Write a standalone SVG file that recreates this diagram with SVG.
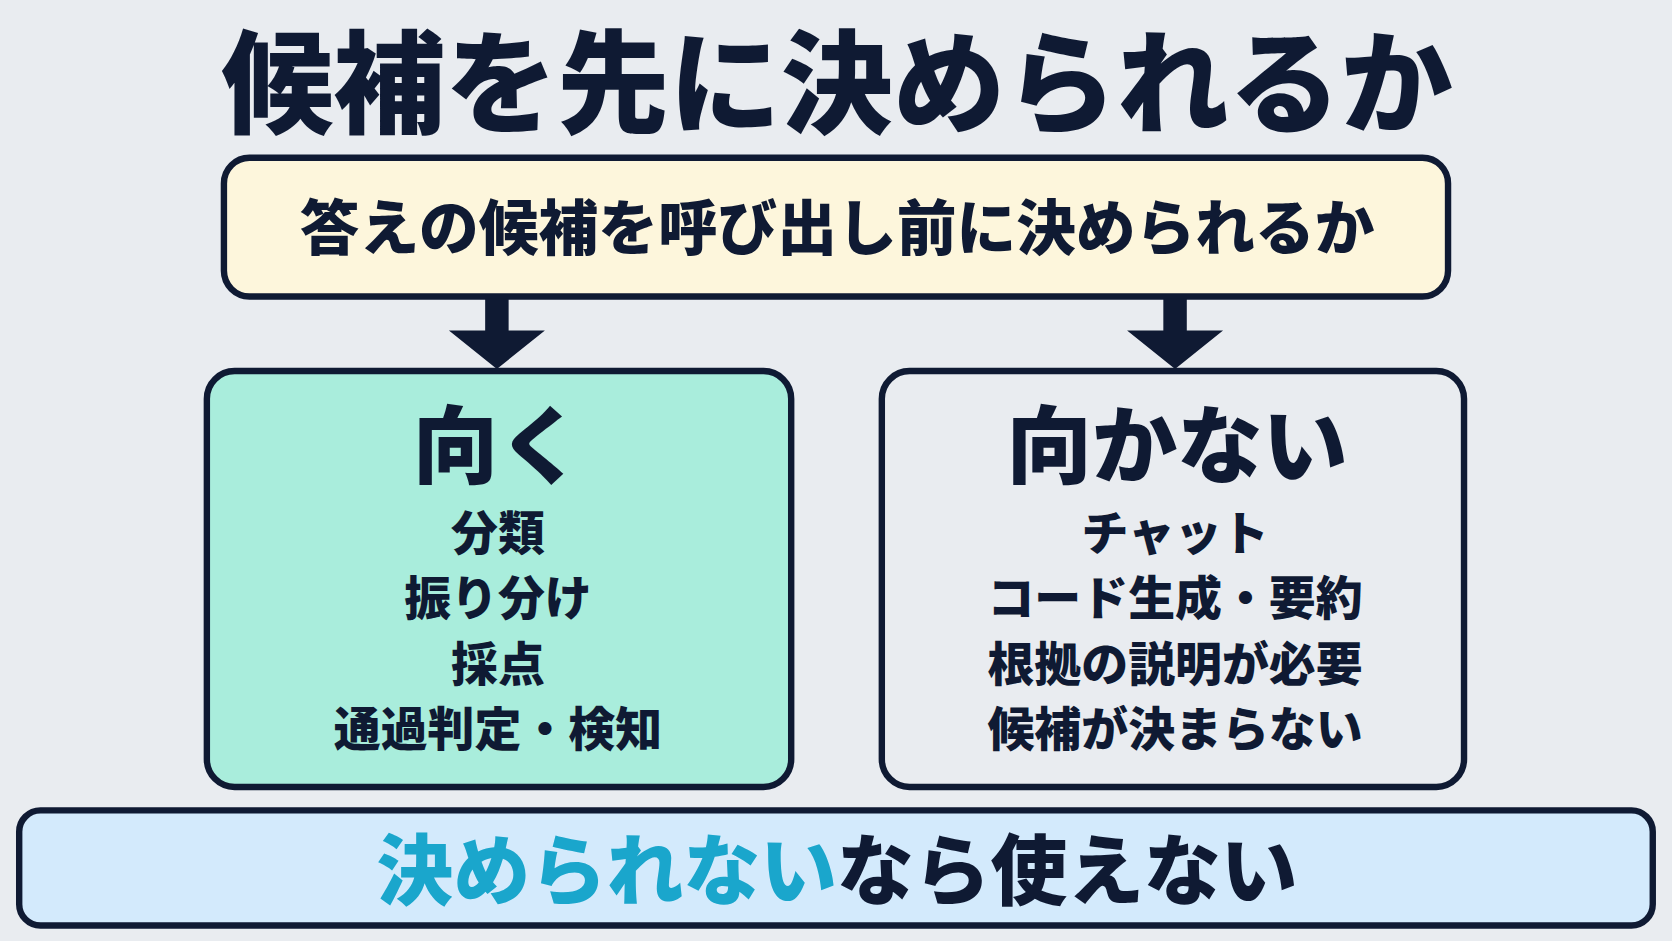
<svg xmlns="http://www.w3.org/2000/svg" width="1672" height="941" viewBox="0 0 1672 941">
<style>
text{font-family:"Noto Sans CJK JP","Noto Sans CJK SC",sans-serif;font-weight:900;fill:#0f1a33;text-anchor:middle}
.box{stroke:#0f1a33;stroke-width:6}
.item{font-size:44px}
</style>
<rect width="1672" height="941" fill="#e9ecf0"/>
<g transform="scale(1.0663)">
<g id="title"><text x="785" y="117" font-size="105">候補を先に決められるか</text></g>
<g id="question"><rect class="box" x="210" y="148" width="1148" height="130" rx="24" fill="#fdf6dc"/>
<text x="785" y="234" font-size="56">答えの候補を呼び出し前に決められるか</text></g>
<g id="connectors" fill="#0f1a33">
<path d="M455 280h22v30h34l-45 36l-45-36h34z"/>
<path d="M1091 280h22v30h34l-45 36l-45-36h34z"/>
</g>
<g id="good"><rect class="box" x="194" y="348" width="548" height="390" rx="26" fill="#a9eddc"/>
<text x="467" y="447" font-size="80">向く</text>
<text class="item" x="467" y="516">分類</text>
<text class="item" x="467" y="577">振り分け</text>
<text class="item" x="467" y="639">採点</text>
<text class="item" x="467" y="700">通過判定・検知</text></g>
<g id="bad"><rect class="box" x="827" y="348" width="546" height="390" rx="26" fill="#e9ecf0"/>
<text x="1104" y="447" font-size="80">向かない</text>
<text class="item" x="1102" y="516">チャット</text>
<text class="item" x="1102" y="577">コード生成・要約</text>
<text class="item" x="1102" y="639">根拠の説明が必要</text>
<text class="item" x="1102" y="700">候補が決まらない</text></g>
<g id="conclusion"><rect class="box" x="18" y="760" width="1532" height="108" rx="20" fill="#d3eafc"/>
<text x="785" y="843" font-size="72"><tspan fill="#1aa6cc">決められない</tspan>なら使えない</text></g>
</g>
</svg>
